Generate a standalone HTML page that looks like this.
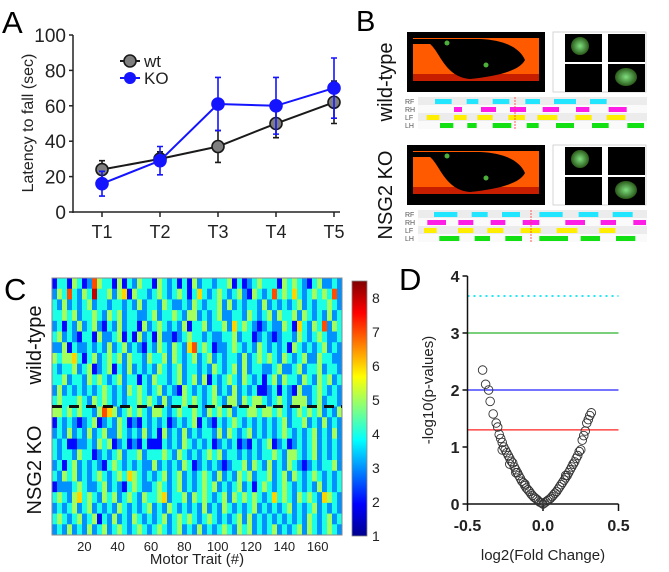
<!DOCTYPE html>
<html><head><meta charset="utf-8"><style>
html,body{margin:0;padding:0;background:#fff;}
svg{display:block;font-family:"Liberation Sans",sans-serif;}
</style></head><body>
<svg id="fig" width="669" height="572" viewBox="0 0 669 572" xmlns="http://www.w3.org/2000/svg">
<defs>
<linearGradient id="jet" x1="0" y1="1" x2="0" y2="0">
<stop offset="0" stop-color="#00008f"/><stop offset="0.125" stop-color="#0000ff"/><stop offset="0.375" stop-color="#00ffff"/><stop offset="0.625" stop-color="#ffff00"/><stop offset="0.875" stop-color="#ff0000"/><stop offset="1" stop-color="#800000"/>
</linearGradient>
<radialGradient id="paw"><stop offset="0" stop-color="#7fe07f"/><stop offset="1" stop-color="#2a5a1a"/></radialGradient>
</defs>
<g id="panelA"></g>
<g id="panelB"></g>
<g id="panelC"></g>
<g id="panelD"></g>
</svg>
<script>
// ---------- Panel A data ----------
const trials = ["T1","T2","T3","T4","T5"];
const wtMean = [24,30,37,50,62];
const wtErr = [5,4,9,8,12];
const koMean = [16,29,61,60,70];
const koErr = [7,8,15,16,17];
const aTicks = [0,20,40,60,80,100];

// ---------- Panel C data (rows of heatmap, each digit = value 1..8, one per 3 traits) ----------
const heatRowsWT = [
"2442542375442524354425434242534434452423454442545432453343",
"3547435484453562544345434542464345434532543474546434545473",
"4353434534434434353443543343543445353434435343434534344543",
"4454534454354534433453445435534345334435434535445354343534",
"3424353453243534425345434352445344536454323433542643547354",
"4534324425334524253425332345443433445344234323443543454334",
"3352433434353453432435435436745423345434354343425434345343",
"5455642453454535443544535434534534344353454543543453354433",
"4344534523452435343435434534434354345353443345334534453443",
"4453443545434534424354434534535243454354342453544354354534",
"3534343434543435454345343254343453435343422342432533454343",
"4544454354543434454543534454543454355354554345435553453443",
];
const heatRowsKO = [
"5545454435765345454355434544543545453445545545434545453435",
"2434323452343542324343423434524324345434343434534453435343",
"3435343534533543435342534353434435354345343434543434534353",
"4342233435452342324222434354343423434232434523423434534343",
"4344354423434534453444543543434545344343434454355434534343",
"3424534343245434343353434354234343234453543534354323434453",
"4354534345434546543434534534345435343545344534535434543434",
"2333454334534324543345434534345453434534245434543434353434",
"4543564543545345435445634453545434535454543464543545436543",
"3434534534343543434534354343435343543434534343453434534343",
"4543453452435343543434534545434543434535343434343435434534",
"3435343534534543454345434534353434543545343453434535434543",
];
const traitTicks = [20,40,60,80,100,120,140,160];
const cbarTicks = [1,2,3,4,5,6,7,8];

// ---------- Panel D data ----------
const foldChange = [-0.40,-0.38,-0.36,-0.35,-0.33,-0.31,-0.30,-0.29,-0.28,-0.27,-0.26,-0.25,-0.24,-0.23,-0.22,-0.21,-0.20,-0.19,-0.18,-0.17,-0.16,-0.15,-0.14,-0.13,-0.12,-0.11,-0.10,-0.09,-0.08,-0.07,-0.06,-0.05,-0.04,-0.03,-0.02,-0.01,0.00,0.01,0.02,0.03,0.04,0.05,0.06,0.07,0.08,0.09,0.10,0.11,0.12,0.13,0.14,0.15,0.16,0.17,0.18,0.19,0.20,0.21,0.22,0.23,0.24,0.25,0.26,0.27,0.28,0.29,0.30,0.31,0.32,-0.27,-0.22,-0.18,-0.12,0.15,0.20];
const negLogP = [2.35,2.1,2.0,1.8,1.58,1.42,1.35,1.22,1.15,1.08,1.0,0.95,0.9,0.85,0.8,0.75,0.72,0.65,0.6,0.55,0.5,0.45,0.4,0.37,0.32,0.28,0.25,0.22,0.18,0.15,0.12,0.1,0.08,0.05,0.03,0.02,0.0,0.02,0.04,0.06,0.08,0.1,0.13,0.16,0.19,0.22,0.26,0.3,0.34,0.38,0.42,0.46,0.5,0.55,0.6,0.65,0.7,0.74,0.8,0.85,0.92,0.95,1.12,1.2,1.28,1.42,1.48,1.55,1.6,0.95,0.7,0.55,0.35,0.5,0.7];
const thresholds = [3.65,3,2,1.3];
const dTicksY = [0,1,2,3,4];
const dTicksX = [-0.5,0.0,0.5];

const NS="http://www.w3.org/2000/svg";
function mk(parent,tag,attrs,text){const e=document.createElementNS(NS,tag);for(const k in attrs)e.setAttribute(k,attrs[k]);if(text!==undefined)e.textContent=text;parent.appendChild(e);return e;}

// ================= Panel A =================
(function(){
const g=document.getElementById('panelA');
const x0=73,x1=340,yTop=35,yBot=212;
const xA=i=>102+i*58;
const yA=v=>yBot-(v/100)*(yBot-yTop);
let t=mk(g,'text',{x:2,y:33,'font-size':31},'A');

let ax=mk(g,'line',{x1:x0,y1:yTop,x2:x0,y2:yBot+1,stroke:'#222','stroke-width':1.5});

let xax=mk(g,'line',{x1:x0,y1:yBot,x2:x1,y2:yBot,stroke:'#222','stroke-width':1.5});

aTicks.forEach(v=>{
 const tk=mk(g,'line',{x1:x0-4,y1:yA(v),x2:x0,y2:yA(v),stroke:'#222','stroke-width':1.5});
 
 const lb=mk(g,'text',{x:x0-7,y:yA(v)+7,'font-size':19,'text-anchor':'end',fill:'#222'},String(v));
 
});
trials.forEach((c,i)=>{
 const tk=mk(g,'line',{x1:xA(i),y1:yBot,x2:xA(i),y2:yBot+5,stroke:'#222','stroke-width':1.5});
 
 const lb=mk(g,'text',{x:xA(i),y:yBot+26,'font-size':18,'text-anchor':'middle',fill:'#222'},c);
 
});
const yl=mk(g,'text',{x:0,y:0,'font-size':16,'text-anchor':'middle',fill:'#222',transform:'translate(33,123) rotate(-90)'},'Latency to fall (sec)');

function series(mean,err,col,fill,name){
 const sg=mk(g,'g',{});
 mean.forEach((m,i)=>{
  const e=mk(sg,'path',{d:`M${xA(i)},${yA(m-err[i])}V${yA(m+err[i])}M${xA(i)-3},${yA(m-err[i])}h6M${xA(i)-3},${yA(m+err[i])}h6`,stroke:col,'stroke-width':1.6,fill:'none'});
  
 });
 const ln=mk(sg,'polyline',{points:mean.map((m,i)=>xA(i)+','+yA(m)).join(' '),stroke:col,'stroke-width':2,fill:'none'});
 
 mean.forEach((m,i)=>{
  const p=mk(sg,'circle',{cx:xA(i),cy:yA(m),r:6,fill:fill,stroke:col,'stroke-width':1.6});
  
 });
}
series(wtMean,wtErr,'#1a1a1a','#7f7f7f','wt');
series(koMean,koErr,'#1414ff','#1414ff','ko');
const lg=mk(g,'g',{});
let l1=mk(lg,'line',{x1:120,y1:61,x2:140,y2:61,stroke:'#1a1a1a','stroke-width':2});
let c1=mk(lg,'circle',{cx:130,cy:61,r:6,fill:'#7f7f7f',stroke:'#1a1a1a','stroke-width':1.6});
let t1=mk(lg,'text',{x:144,y:67,'font-size':17,fill:'#222'},'wt');
let l2=mk(lg,'line',{x1:120,y1:78,x2:140,y2:78,stroke:'#1414ff','stroke-width':2});
let c2=mk(lg,'circle',{cx:130,cy:78,r:6,fill:'#1414ff'});
let t2=mk(lg,'text',{x:144,y:84,'font-size':17,fill:'#222'},'KO');
})();

// ================= Panel B (illustration) =================
(function(){
const g=document.getElementById('panelB');
let t=mk(g,'text',{x:356,y:31,'font-size':29},'B');
function block(oy,label,gait,name){
 const bg=mk(g,'g',{});
 const lb=mk(bg,'text',{x:0,y:0,'font-size':20,'text-anchor':'middle',fill:'#111',transform:`translate(392,${oy+50}) rotate(-90)`},label);
 
 const im=mk(bg,'rect',{x:407,y:oy,width:138,height:60,fill:'#000'});
 mk(bg,'rect',{x:413,y:oy+6,width:126,height:42,fill:'#ff5a00'});
 mk(bg,'rect',{x:413,y:oy+42,width:126,height:7,fill:'#c81e00'});
 mk(bg,'path',{d:`M413,${oy+12}L430,${oy+12}C440,${oy+20} 445,${oy+45} 470,${oy+47}C500,${oy+44} 520,${oy+38} 525,${oy+28}C520,${oy+16} 505,${oy+8} 480,${oy+7}L413,${oy+7}Z`,fill:'#000'});
 mk(bg,'circle',{cx:447,cy:oy+11,r:2.5,fill:'#4caf3a'});
 mk(bg,'circle',{cx:486,cy:oy+33,r:2.5,fill:'#4caf3a'});
 const pw=mk(bg,'rect',{x:553,y:oy,width:93,height:60,fill:'#fff',stroke:'#ccc','stroke-width':0.8});
 [[565,oy+2],[608,oy+2],[565,oy+32],[608,oy+32]].forEach((p,i)=>{
  mk(bg,'rect',{x:p[0],y:p[1],width:37,height:28,fill:'#000'});
  if(i==0) mk(bg,'ellipse',{cx:580,cy:oy+14,rx:9,ry:9,fill:'url(#paw)'});
  if(i==3) mk(bg,'ellipse',{cx:626,cy:oy+45,rx:11,ry:9,fill:'url(#paw)'});
 });
 const gy=oy+65;
 const gg=mk(bg,'g',{});
 const legs=['RF','RH','LF','LH'];const cols=['#22e6ff','#ff1ee6','#ffee00','#12e012'];
 legs.forEach((L,r)=>{
  mk(gg,'rect',{x:418,y:gy+r*8,width:229,height:8,fill:r%2?'#fafafa':'#ececec'});
  mk(gg,'text',{x:405,y:gy+r*8+7,'font-size':7,fill:'#555'},L);
  gait[r].forEach(s=>mk(gg,'rect',{x:340+s[0]/3,y:gy+r*8+2,width:(s[1]-s[0])/3,height:5,fill:cols[r]}));
 });
 mk(gg,'line',{x1:340+gait[4]/3,y1:gy,x2:340+gait[4]/3,y2:gy+32,stroke:'#f33','stroke-width':0.8,'stroke-dasharray':'2,1'});
}
block(32,'wild-type',[[[285,335],[380,415],[458,508],[556,600],[642,708],[750,800]],[[342,366],[423,468],[510,558],[608,657],[708,748],[806,860]],[[260,298],[342,380],[412,458],[505,555],[592,652],[706,755],[800,856]],[[300,340],[382,410],[458,514],[560,596],[648,702],[756,806],[862,912]],525],'wt');
block(145,'NSG2 KO',[[[282,352],[395,443],[486,540],[598,668],[716,775],[818,878]],[[262,318],[355,400],[452,496],[548,598],[676,735],[782,828],[880,918]],[[252,290],[354,400],[442,490],[542,602],[650,712],[778,826]],[[298,358],[404,450],[496,546],[598,684],[722,780],[828,886]],573],'ko');
})();

// ================= Panel C heatmap =================
(function(){
const g=document.getElementById('panelC');
const hx0=52,hx1=342,hy0=278,hy1=535;
const rows=heatRowsWT.concat(heatRowsKO);
const nR=rows.length,nC=rows[0].length;
const cw=(hx1-hx0)/nC,rh=(hy1-hy0)/nR;
function jet(v){const t=(v-1)/7.5;const r=Math.min(Math.max(1.5-Math.abs(4*t-3),0),1),gg=Math.min(Math.max(1.5-Math.abs(4*t-2),0),1),b=Math.min(Math.max(1.5-Math.abs(4*t-1),0),1);return `rgb(${Math.round(r*255)},${Math.round(gg*255)},${Math.round(b*255)})`;}
let t=mk(g,'text',{x:4,y:300,'font-size':31},'C');
const hm=mk(g,'g',{});
rows.forEach((row,r)=>{
 for(let c=0;c<nC;c++){
  const v=+row[c];
  const cell=mk(hm,'rect',{x:hx0+c*cw,y:hy0+r*rh,width:cw+0.3,height:rh+0.3,fill:jet(v)});
  
  
 }
});
let fr=mk(g,'rect',{x:hx0,y:hy0,width:hx1-hx0,height:hy1-hy0,fill:'none',stroke:'#888','stroke-width':1});
const dy=hy0+heatRowsWT.length*rh;
let dl=mk(g,'line',{x1:hx0,y1:dy,x2:hx1,y2:dy,stroke:'#111','stroke-width':3,'stroke-dasharray':'10,7'});
const xs=v=>hx0+(v/174)*(hx1-hx0)-1;
traitTicks.forEach(v=>{
 const lb=mk(g,'text',{x:xs(v),y:hy1+16,'font-size':13,'text-anchor':'middle',fill:'#222'},String(v));
 
});
let xt=mk(g,'text',{x:197,y:564,'font-size':15,'text-anchor':'middle',fill:'#222'},'Motor Trait (#)');
let w=mk(g,'text',{x:0,y:0,'font-size':20,'text-anchor':'middle',fill:'#111',transform:'translate(41,345) rotate(-90)'},'wild-type');
let k=mk(g,'text',{x:0,y:0,'font-size':20,'text-anchor':'middle',fill:'#111',transform:'translate(41,470) rotate(-90)'},'NSG2 KO');
const cy=v=>536-(v-1)*34;
let cb=mk(g,'rect',{x:352,y:cy(8.5),width:15,height:cy(1)-cy(8.5),fill:'url(#jet)',stroke:'#888','stroke-width':0.8});
cbarTicks.forEach(v=>{
 const lb=mk(g,'text',{x:372,y:cy(v)+5,'font-size':14,fill:'#222'},String(v));
 
});
})();

// ================= Panel D volcano =================
(function(){
const g=document.getElementById('panelD');
const xD=v=>543+v*151;
const yD=v=>504-v*57;
let t=mk(g,'text',{x:399,y:290,'font-size':31},'D');
const thrCols=['#22e6f0','#2ab52a','#2222ff','#ff2222'];
thresholds.forEach((v,i)=>{
 const l=mk(g,'line',{x1:xD(-0.5),y1:yD(v),x2:xD(0.5),y2:yD(v),stroke:thrCols[i],'stroke-width':i==0?2:1.3,'stroke-dasharray':i==0?'2,4':'none'});
 
});
let ya=mk(g,'line',{x1:xD(-0.5),y1:yD(4),x2:xD(-0.5),y2:yD(0),stroke:'#111','stroke-width':1.5});
let xa=mk(g,'line',{x1:xD(-0.5),y1:yD(0),x2:xD(0.5),y2:yD(0),stroke:'#111','stroke-width':1.5});
dTicksY.forEach(v=>{
 const tk=mk(g,'line',{x1:xD(-0.5)-5,y1:yD(v),x2:xD(-0.5),y2:yD(v),stroke:'#111','stroke-width':1.5});
 const lb=mk(g,'text',{x:xD(-0.5)-8,y:yD(v)+6,'font-size':16,'font-weight':'bold','text-anchor':'end',fill:'#222'},String(v));
 
});
dTicksX.forEach(v=>{
 const tk=mk(g,'line',{x1:xD(v),y1:yD(0),x2:xD(v),y2:yD(0)+7,stroke:'#111','stroke-width':1.5});
 const lb=mk(g,'text',{x:xD(v),y:yD(0)+27,'font-size':16,'font-weight':'bold','text-anchor':'middle',fill:'#222'},v.toFixed(1));
 
});
let yt=mk(g,'text',{x:0,y:0,'font-size':15,'text-anchor':'middle',fill:'#222',transform:'translate(433,390) rotate(-90)'},'-log10(p-values)');
let xt=mk(g,'text',{x:543,y:560,'font-size':15,'text-anchor':'middle',fill:'#222'},'log2(Fold Change)');
const pg=mk(g,'g',{});
foldChange.forEach((fc,i)=>{
 const c=mk(pg,'circle',{cx:xD(fc),cy:yD(negLogP[i]),r:4.3,fill:'none',stroke:'#333','stroke-width':0.9});
 
 
});
})();
</script>
</body></html>
